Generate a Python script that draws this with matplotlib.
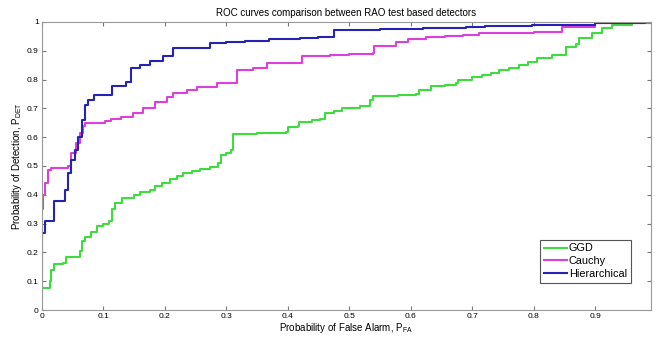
import matplotlib
matplotlib.use('Agg')
import matplotlib.pyplot as plt
import numpy as np

plt.rcParams['font.family'] = 'Liberation Sans'
plt.rcParams['mathtext.fontset'] = 'custom'
plt.rcParams['mathtext.rm'] = 'Liberation Sans'

# GGD curve (PFA, PDET)
ggd_pfa = [0.0, 0.013, 0.016, 0.021, 0.035, 0.040, 0.059, 0.062, 0.065, 0.070, 0.080, 0.090,
           0.100, 0.110, 0.115, 0.120, 0.130, 0.150, 0.160, 0.176, 0.184, 0.196, 0.208, 0.220,
           0.230, 0.245, 0.257, 0.273, 0.287, 0.292, 0.300, 0.308, 0.311, 0.350, 0.398, 0.400,
           0.416, 0.419, 0.440, 0.452, 0.460, 0.475, 0.489, 0.517, 0.533, 0.538, 0.580, 0.609,
           0.614, 0.633, 0.655, 0.673, 0.676, 0.700, 0.715, 0.730, 0.744, 0.760, 0.776, 0.790,
           0.805, 0.830, 0.852, 0.868, 0.873, 0.895, 0.910, 0.927, 0.960, 0.990]
ggd_pdet = [0.075, 0.10, 0.14, 0.16, 0.163, 0.185, 0.185, 0.205, 0.24, 0.255, 0.27, 0.29,
            0.30, 0.31, 0.35, 0.37, 0.39, 0.40, 0.41, 0.417, 0.43, 0.44, 0.455, 0.465,
            0.476, 0.483, 0.49, 0.497, 0.51, 0.538, 0.545, 0.555, 0.61, 0.613, 0.617, 0.635,
            0.64, 0.654, 0.658, 0.663, 0.684, 0.692, 0.70, 0.708, 0.73, 0.743, 0.746, 0.75,
            0.765, 0.778, 0.782, 0.788, 0.80, 0.81, 0.815, 0.822, 0.833, 0.840, 0.85, 0.862,
            0.875, 0.885, 0.914, 0.924, 0.943, 0.962, 0.978, 0.99, 0.995, 1.0]

# Cauchy curve
cau_pfa = [0.0, 0.003, 0.006, 0.011, 0.016, 0.043, 0.048, 0.056, 0.062, 0.067, 0.070, 0.103,
           0.113, 0.129, 0.148, 0.165, 0.184, 0.204, 0.213, 0.236, 0.252, 0.285, 0.317, 0.343,
           0.366, 0.423, 0.468, 0.500, 0.538, 0.541, 0.576, 0.595, 0.625, 0.655, 0.685, 0.711,
           0.760, 0.800, 0.844, 0.846, 0.900, 0.990]
cau_pdet = [0.35, 0.40, 0.44, 0.486, 0.493, 0.50, 0.545, 0.58, 0.614, 0.64, 0.65, 0.655,
            0.663, 0.67, 0.683, 0.70, 0.723, 0.74, 0.753, 0.765, 0.775, 0.788, 0.833, 0.84,
            0.857, 0.88, 0.885, 0.888, 0.892, 0.915, 0.93, 0.942, 0.946, 0.951, 0.956, 0.962,
            0.963, 0.965, 0.966, 0.984, 0.995, 1.0]

# Hierarchical curve
hie_pfa = [0.0, 0.001, 0.006, 0.019, 0.021, 0.038, 0.043, 0.048, 0.054, 0.059, 0.065, 0.070,
           0.075, 0.086, 0.110, 0.114, 0.137, 0.145, 0.160, 0.176, 0.197, 0.213, 0.273, 0.300,
           0.330, 0.370, 0.420, 0.450, 0.476, 0.550, 0.620, 0.690, 0.720, 0.797, 0.900, 0.980]
hie_pdet = [0.045, 0.267, 0.31, 0.31, 0.38, 0.417, 0.475, 0.52, 0.555, 0.60, 0.66, 0.71,
            0.73, 0.748, 0.748, 0.777, 0.79, 0.84, 0.85, 0.865, 0.883, 0.91, 0.927, 0.930,
            0.935, 0.940, 0.943, 0.948, 0.973, 0.975, 0.978, 0.982, 0.985, 0.99, 0.995, 1.0]

fig = plt.figure(figsize=(6.56, 3.37), dpi=100)
ax = fig.add_axes([0.0633, 0.080, 0.9287, 0.855])

ax.plot(ggd_pfa, ggd_pdet, drawstyle='steps-post', color='#3fdc3f', lw=1.5, label='GGD')
ax.plot(cau_pfa, cau_pdet, drawstyle='steps-post', color='#dc3fdc', lw=1.5, label='Cauchy')
ax.plot(hie_pfa, hie_pdet, drawstyle='steps-post', color='#2323b4', lw=1.5, label='Hierarchical')

ax.set_xlim(0, 0.99)
ax.set_ylim(0, 1)
ax.set_xticks(np.arange(0, 0.95, 0.1))
ax.set_xticklabels(['0', '0.1', '0.2', '0.3', '0.4', '0.5', '0.6', '0.7', '0.8', '0.9'])
ax.set_yticks(np.arange(0, 1.05, 0.1))
ax.set_yticklabels(['0', '0.1', '0.2', '0.3', '0.4', '0.5', '0.6', '0.7', '0.8', '0.9', '1'])
ax.tick_params(direction='in', top=True, right=True, labelsize=6, length=3,
               color='#777777', pad=2)
for s in ax.spines.values():
    s.set_color('#999999')
    s.set_linewidth(0.8)

ax.set_title('ROC curves comparison between RAO test based detectors', fontsize=7, pad=4)
ax.set_xlabel('Probability of False Alarm, P$_{\\mathrm{FA}}$', fontsize=7, labelpad=1)
ax.set_ylabel('Probability of Detection, P$_{\\mathrm{DET}}$', fontsize=7, labelpad=2)

leg = ax.legend(loc='lower right', bbox_to_anchor=(0.967, 0.095), fontsize=7.8,
                fancybox=False, framealpha=1, edgecolor='#555555', handlelength=2.1,
                handletextpad=0.2, borderpad=0.35, labelspacing=0.25, borderaxespad=0)
leg.get_frame().set_linewidth(0.8)

fig.savefig('out.png', dpi=100)
